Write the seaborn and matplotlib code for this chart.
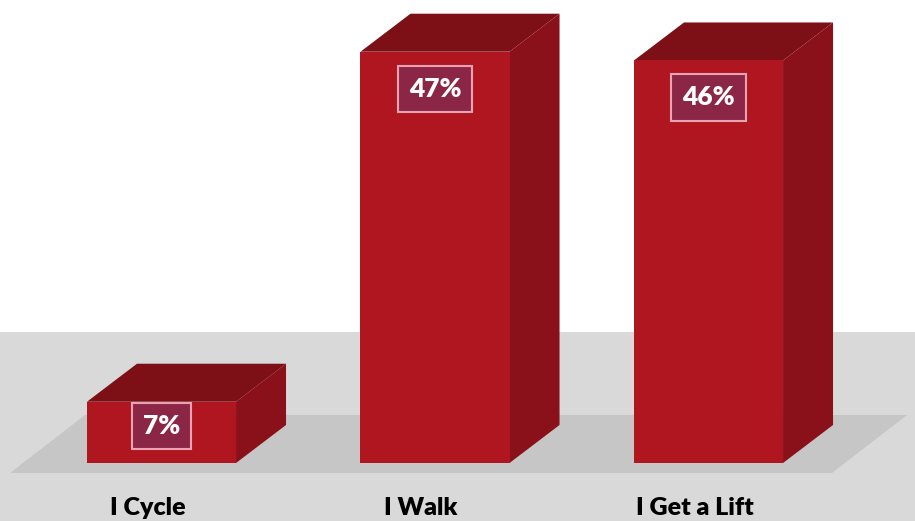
import matplotlib
matplotlib.use("Agg")
import matplotlib.pyplot as plt
from matplotlib.patches import Polygon, Rectangle
import seaborn as sns
import pandas as pd

# Survey data
categories = ["I Cycle", "I Walk", "I Get a Lift"]
shares = [7, 47, 46]
value_labels = ["7%", "47%", "46%"]

FRONT = "#b0161f"
TOP = "#7c1016"
SIDE = "#8a1019"
BAND = "#d9d9d9"
FLOOR = "#c6c6c6"
LABEL_FILL = "#8c2647"
LABEL_EDGE = "#e9a3b2"

sns.set_theme(style="white")
plt.rcParams["font.family"] = ["Lato", "DejaVu Sans"]

W, H, DPI = 915, 521, 100
fig = plt.figure(figsize=(W / DPI, H / DPI), dpi=DPI, facecolor="white")
ax = fig.add_axes([0, 0, 1, 1])
ax.set_axis_off()

df = pd.DataFrame({"mode": categories, "share": shares})
sns.barplot(data=df, x="mode", y="share", color=FRONT, saturation=1,
            width=0.545, ax=ax, zorder=4, linewidth=0)

ax.set_xlim(-0.5905, 2.755)
ax.set_ylim(-6.63, 52.91)

# background band and floor (axes fractions)
ax.add_patch(Rectangle((0, 0), 1, 189 / H, transform=ax.transAxes,
                       facecolor=BAND, edgecolor="none", zorder=0))
floor = [(10 / W, 48 / H), (832 / W, 48 / H), (907 / W, 106 / H), (85 / W, 106 / H)]
ax.add_patch(Polygon(floor, closed=True, transform=ax.transAxes,
                     facecolor=FLOOR, edgecolor="none", zorder=1))

# extrude each bar into a box
DX, DY = 50, 38
for patch in ax.patches:
    if patch.get_facecolor()[:3] != matplotlib.colors.to_rgb(FRONT):
        continue
    x0, y0 = patch.get_x(), patch.get_y()
    x1, y1 = x0 + patch.get_width(), y0 + patch.get_height()
    (px0, pyb), (px1, pyt) = ax.transData.transform([(x0, y0), (x1, y1)])
    top = [(px0, pyt), (px1, pyt), (px1 + DX, pyt + DY), (px0 + DX, pyt + DY)]
    side = [(px1, pyb), (px1 + DX, pyb + DY), (px1 + DX, pyt + DY), (px1, pyt)]
    ax.add_patch(Polygon(top, closed=True, transform=None, facecolor=TOP,
                         edgecolor="none", zorder=3))
    ax.add_patch(Polygon(side, closed=True, transform=None, facecolor=SIDE,
                         edgecolor="none", zorder=3))

# value badges and category names
for i, (val, lab, cat) in enumerate(zip(shares, value_labels, categories)):
    (_, p0), (_, p1) = ax.transData.transform([(i, 0), (i, val)])
    drop = min(37, 0.4 * (p1 - p0))
    ax.annotate(lab, xy=(i, val), xytext=(0, -drop), textcoords="offset pixels",
                ha="center", va="center", color="white", fontsize=19,
                fontweight="heavy", zorder=6,
                bbox=dict(boxstyle="square,pad=0.42", facecolor=LABEL_FILL,
                          edgecolor=LABEL_EDGE, linewidth=1.5))
    ax.annotate(cat, xy=(i, 0), xytext=(-14, -45), textcoords="offset pixels",
                ha="center", va="center", color="black", fontsize=18,
                fontweight="heavy", zorder=6)

fig.savefig("out.png", dpi=DPI, facecolor="white")
